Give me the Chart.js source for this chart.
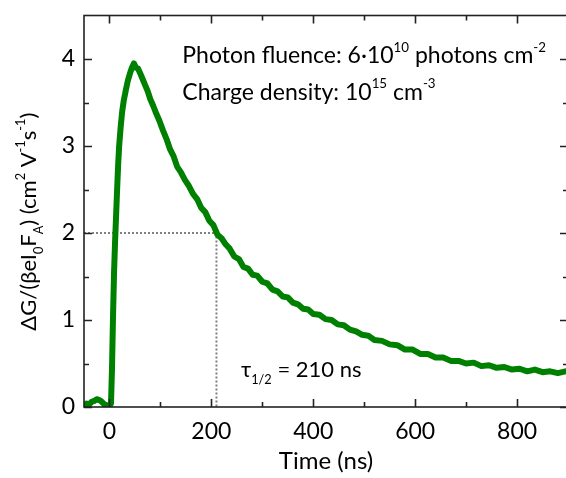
<!DOCTYPE html>
<html lang="en">
<head>
    <meta charset="UTF-8">
    <title>Photoconductance decay</title>
    <script src="https://cdn.jsdelivr.net/npm/chart.js"></script>
    <style>
        html, body {
            margin: 0;
            padding: 0;
            overflow: hidden;
            background: #fff;
        }
        #wrap {
            width: 572px; /* right frame sits just past the window edge */
            height: 478px;
        }
    </style>
</head>
<body>
    <div id="wrap">
        <canvas id="chart"></canvas>
    </div>
    <script>
        // time after excitation (ns) and normalised photoconductance
        var times = [-50, -45, -40, -35, -30, -25, -20, -15, -10, -5, 0, 3, 5, 7, 9, 11, 13, 15, 17, 19,
            22, 25, 28, 32, 36, 40, 44, 48, 52, 56, 60, 65, 70, 75, 80, 86, 92, 98, 105, 112,
            119, 126, 133, 140, 148, 156, 164, 172, 180, 188, 196, 204, 212, 220, 228, 236, 245, 254, 263, 272,
            281, 290, 300, 310, 320, 330, 340, 350, 360, 370, 380, 390, 400, 412, 424, 436, 448, 460, 472, 484,
            496, 508, 520, 535, 550, 565, 580, 595, 610, 625, 640, 655, 670, 685, 700, 715, 730, 745, 760, 775,
            790, 805, 820, 835, 850, 865, 880, 895];
        var signal = [0.02, 0.04, 0.03, 0.06, 0.07, 0.09, 0.08, 0.06, 0.03, 0.02, 0.01, 0.04, 0.45, 1.05, 1.55, 1.9, 2.2, 2.5, 2.78, 3.0,
            3.22, 3.4, 3.52, 3.64, 3.75, 3.83, 3.9, 3.95, 3.9, 3.89, 3.84, 3.77, 3.7, 3.63, 3.54, 3.46, 3.37, 3.29, 3.18, 3.08,
            2.96, 2.88, 2.76, 2.7, 2.61, 2.54, 2.45, 2.39, 2.29, 2.24, 2.14, 2.09, 1.98, 1.94, 1.87, 1.82, 1.73, 1.7, 1.61, 1.59,
            1.52, 1.51, 1.44, 1.42, 1.35, 1.33, 1.27, 1.26, 1.2, 1.18, 1.13, 1.12, 1.07, 1.06, 1.01, 1.0, 0.95, 0.94, 0.89, 0.87,
            0.83, 0.82, 0.77, 0.76, 0.72, 0.71, 0.66, 0.66, 0.61, 0.61, 0.57, 0.57, 0.53, 0.53, 0.5, 0.51, 0.47, 0.48, 0.45, 0.46,
            0.43, 0.44, 0.41, 0.43, 0.4, 0.41, 0.39, 0.41];

        var halfTime = 210;   // tau 1/2 (ns)
        var halfValue = 2;    // half of the peak

        var xMin = -50, xMax = 900;
        var yMin = 0, yMax = 4.5;
        var xTicks = [0, 100, 200, 300, 400, 500, 600, 700, 800];
        var xLabelTicks = [0, 200, 400, 600, 800];
        var yTicks = [0, 0.5, 1, 1.5, 2, 2.5, 3, 3.5, 4];
        var yLabelTicks = [0, 1, 2, 3, 4];

        var FONT = 'Lato';
        var green = 'rgb(0,128,0)';

        // text pieces with sub/superscripts
        function richWidth(ctx, parts, size) {
            var w = 0;
            parts.forEach(function(p) {
                ctx.font = ((p.sup || p.sub) ? size * 0.58 : size) + 'px ' + FONT;
                w += ctx.measureText(p.t).width;
            });
            return w;
        }
        function drawRich(ctx, parts, x, y, size) {
            var cx = x;
            ctx.textBaseline = 'alphabetic';
            ctx.textAlign = 'left';
            parts.forEach(function(p) {
                var s = (p.sup || p.sub) ? size * 0.58 : size;
                ctx.font = s + 'px ' + FONT;
                var dy = p.sup ? -size * 0.5 : (p.sub ? size * 0.32 : 0);
                ctx.fillText(p.t, cx, y + dy);
                cx += ctx.measureText(p.t).width;
            });
        }

        var yTitle = [{t: '\u0394G/(\u03B2eI'}, {t: '0', sub: true}, {t: 'F'}, {t: 'A', sub: true},
            {t: ') (cm'}, {t: '2', sup: true}, {t: ' V'}, {t: '-1', sup: true}, {t: 's'}, {t: '-1', sup: true}, {t: ')'}];
        var note1 = [{t: 'Photon fluence: 6\u00B710'}, {t: '10', sup: true}, {t: ' photons cm'}, {t: '-2', sup: true}];
        var note2 = [{t: 'Charge density: 10'}, {t: '15', sup: true}, {t: ' cm'}, {t: '-3', sup: true}];
        var note3 = [{t: '\u03C4'}, {t: '1/2', sub: true}, {t: ' = 210 ns'}];

        var framePlugin = {
            id: 'frame',
            afterDatasetsDraw: function(chart) {
                var ctx = chart.ctx, a = chart.chartArea;
                var x = chart.scales.x, y = chart.scales.y;
                ctx.save();
                ctx.strokeStyle = '#222';
                ctx.lineWidth = 1.6;
                ctx.strokeRect(a.left, a.top, a.right - a.left, a.bottom - a.top);
                ctx.beginPath();
                xTicks.forEach(function(v) {
                    var px = Math.round(x.getPixelForValue(v)) + 0.5;
                    var len = xLabelTicks.indexOf(v) >= 0 ? 8 : 5;
                    ctx.moveTo(px, a.bottom); ctx.lineTo(px, a.bottom - len);
                    ctx.moveTo(px, a.top); ctx.lineTo(px, a.top + len);
                });
                yTicks.forEach(function(v) {
                    var py = Math.round(y.getPixelForValue(v)) + 0.5;
                    var len = yLabelTicks.indexOf(v) >= 0 ? 8 : 5;
                    ctx.moveTo(a.left, py); ctx.lineTo(a.left + len, py);
                    ctx.moveTo(a.right, py); ctx.lineTo(a.right - len, py);
                });
                ctx.stroke();
                ctx.restore();
            },
            afterDraw: function(chart) {
                var ctx = chart.ctx;
                var x = chart.scales.x, y = chart.scales.y;
                ctx.save();
                ctx.fillStyle = '#000';
                drawRich(ctx, note1, x.getPixelForValue(143), y.getPixelForValue(3.95), 23);
                drawRich(ctx, note2, x.getPixelForValue(143), y.getPixelForValue(3.53), 23);
                drawRich(ctx, note3, x.getPixelForValue(258), y.getPixelForValue(0.35), 22);
                // y axis title, rotated
                var w = richWidth(ctx, yTitle, 22);
                ctx.translate(36, y.getPixelForValue(2.13));
                ctx.rotate(-Math.PI / 2);
                drawRich(ctx, yTitle, -w / 2, 0, 22);
                ctx.restore();
            }
        };

        var ctx = document.getElementById('chart').getContext('2d');
        var chart = new Chart(ctx, {
            type: 'line',
            data: {
                datasets: [{
                    data: times.map(function(t, i) { return {x: t, y: signal[i]}; }),
                    borderColor: green,
                    borderWidth: 6,
                    borderJoinStyle: 'round',
                    borderCapStyle: 'round',
                    pointRadius: 0,
                    fill: false,
                    order: 1
                }, {
                    data: [{x: xMin, y: halfValue}, {x: halfTime, y: halfValue}, {x: halfTime, y: yMin}],
                    borderColor: '#808080',
                    borderWidth: 2,
                    borderDash: [2, 2],
                    pointRadius: 0,
                    fill: false,
                    order: 2
                }]
            },
            options: {
                responsive: true,
                maintainAspectRatio: false,
                animation: false,
                layout: {
                    padding: {top: 15.5, right: 4, left: 0, bottom: 0}
                },
                plugins: {
                    legend: {display: false},
                    tooltip: {enabled: false}
                },
                scales: {
                    x: {
                        type: 'linear',
                        min: xMin,
                        max: xMax,
                        afterBuildTicks: function(scale) {
                            scale.ticks = xTicks.map(function(v) { return {value: v}; });
                        },
                        afterFit: function(scale) {
                            scale.height = 71;
                            scale.paddingLeft = 0;
                            scale.paddingRight = 0;
                        },
                        grid: {display: false, drawTicks: false},
                        border: {display: false},
                        ticks: {
                            autoSkip: false,
                            maxRotation: 0,
                            padding: 11,
                            color: '#000',
                            font: {family: FONT, size: 23},
                            callback: function(v) { return xLabelTicks.indexOf(v) >= 0 ? String(v) : ''; }
                        },
                        title: {
                            display: true,
                            text: 'Time (ns)',
                            color: '#000',
                            font: {family: FONT, size: 24},
                            padding: {top: 0, bottom: 2}
                        }
                    },
                    y: {
                        type: 'linear',
                        min: yMin,
                        max: yMax,
                        afterBuildTicks: function(scale) {
                            scale.ticks = yTicks.map(function(v) { return {value: v}; });
                        },
                        afterFit: function(scale) {
                            scale.width = 84;
                            scale.paddingTop = 0;
                            scale.paddingBottom = 0;
                        },
                        grid: {display: false, drawTicks: false},
                        border: {display: false},
                        ticks: {
                            autoSkip: false,
                            padding: 9,
                            color: '#000',
                            font: {family: FONT, size: 23},
                            callback: function(v) { return yLabelTicks.indexOf(v) >= 0 ? String(v) : ''; }
                        }
                    }
                }
            },
            plugins: [framePlugin]
        });
    </script>
</body>
</html>
